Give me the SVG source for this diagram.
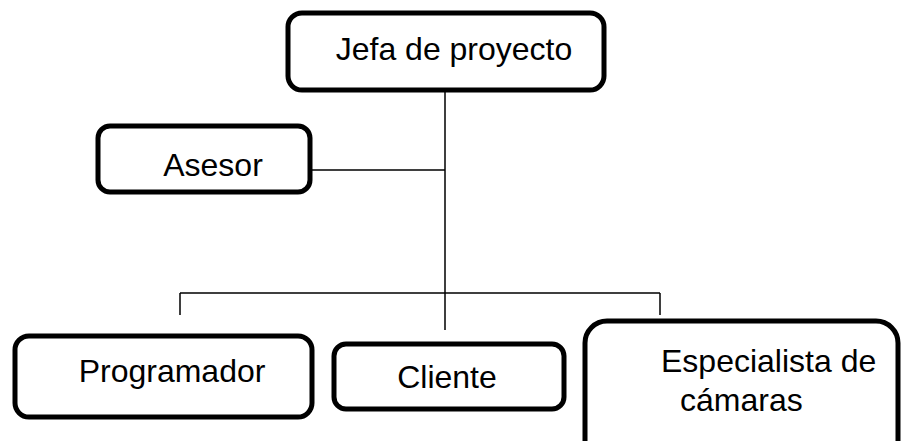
<svg xmlns="http://www.w3.org/2000/svg" width="904" height="441" viewBox="0 0 904 441">
<style>
.box{fill:#fff;stroke:#000;stroke-width:5}
.t{font-family:"Liberation Sans",Arial,sans-serif;font-size:32px;fill:#000}
.c{stroke:#000;stroke-width:1.5;fill:none}
</style>
<rect width="904" height="441" fill="#fff"/>
<g id="connectors">
<path class="c" d="M445 90V293M310 170H445M180 293H660M180 293V315M445 293V330M660 293V315"/>
</g>
<g id="jefa">
<rect class="box" x="288" y="13" width="316" height="77" rx="14"/>
<text class="t" x="454" y="60" text-anchor="middle">Jefa de proyecto</text>
</g>
<g id="asesor">
<rect class="box" x="98" y="126" width="212" height="66" rx="12"/>
<text class="t" x="213" y="176" text-anchor="middle">Asesor</text>
</g>
<g id="programador">
<rect class="box" x="15" y="336" width="297" height="81" rx="14"/>
<text class="t" x="172" y="382" text-anchor="middle">Programador</text>
</g>
<g id="cliente">
<rect class="box" x="334" y="344" width="230" height="65" rx="12"/>
<text class="t" x="447" y="388" text-anchor="middle">Cliente</text>
</g>
<g id="especialista">
<rect class="box" x="585" y="321" width="313" height="150" rx="22"/>
<text class="t" x="661" y="372">Especialista de</text>
<text class="t" x="680" y="411">cámaras</text>
</g>
</svg>
